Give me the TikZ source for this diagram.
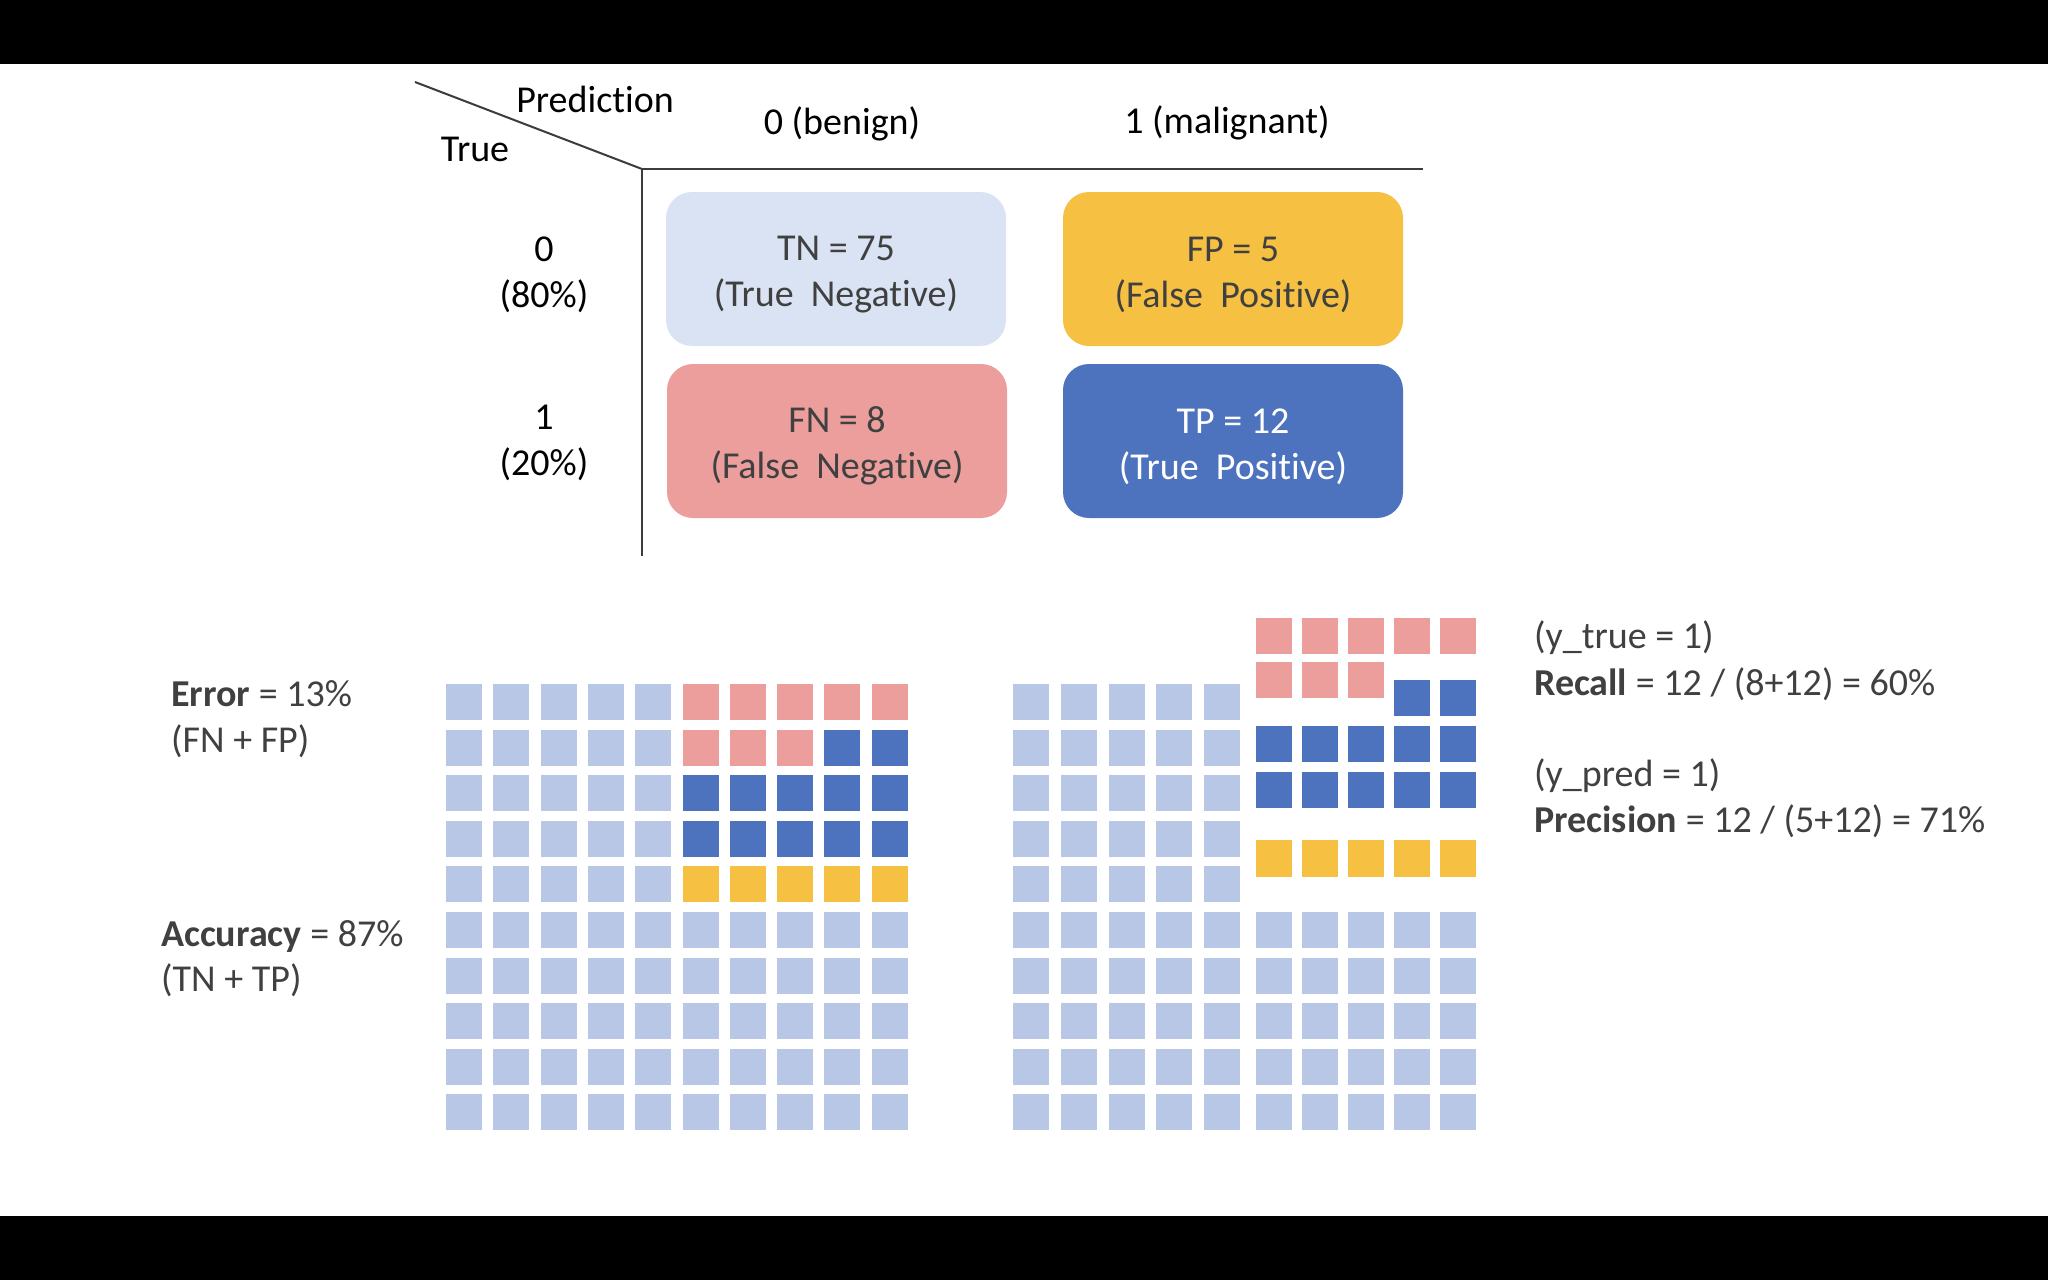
\documentclass[tikz,border=0pt]{standalone}
\usepackage{fontspec}
\setmainfont{Carlito}[Ligatures=NoCommon]
\usepackage{tikz}
\usetikzlibrary{positioning}

\definecolor{textgray}{HTML}{404040}
\definecolor{linegray}{HTML}{3C3C3C}
\definecolor{tnfill}{HTML}{DAE3F3}
\definecolor{fpfill}{HTML}{F6C142}
\definecolor{fnfill}{HTML}{EB9E9C}
\definecolor{tpfill}{HTML}{4D73BF}
\definecolor{lightsq}{HTML}{B7C7E5}

\tikzset{
	every node/.style={font=\fontsize{38}{46}\selectfont},
	cell/.style={rounded corners=26pt, minimum width=340pt, minimum height=154pt, align=center, text=textgray, inner sep=0pt, execute at begin node=\rule{0pt}{82pt}},
	head/.style={anchor=base, text=black, inner sep=0pt},
	rowhead/.style={align=center, text=black, inner sep=0pt},
	note/.style={anchor=base west, text=textgray, inner sep=0pt}
}

\begin{document}
\begin{tikzpicture}[x=1pt, y=-1pt]
		\useasboundingbox (0,0) rectangle (2048,1280);
		\fill[white] (0,0) rectangle (2048,1280);
		\fill[black] (0,0) rectangle (2048,64);
		\fill[black] (0,1216) rectangle (2048,1280);

		\coordinate(D) at (415,82);
		\coordinate(C) at (642,169);
		\coordinate(H) at (1423,169);
		\coordinate(V) at (642,556);
		\draw[linegray, line width=2pt] (D) -- (C);
		\draw[linegray, line width=2.5pt] (C) -- (H);
		\draw[linegray, line width=2pt] (C) -- (V);

		\node(pred)[head] at (595,112){Prediction};
		\node(true)[head] at (475,161){True};
		\node(col0)[head] at (842,134){0 (benign)};
		\node(col1)[head] at (1227,133){1 (malignant)};
		\node(row0)[rowhead] at (544,275){0\\(80\%)};
		\node(row1)[rowhead] at (544,443){1\\(20\%)};

		\node(TN)[cell, fill=tnfill] at (836,269){TN = 75\\(True\ \ Negative)};
		\node(FP)[cell, fill=fpfill] at (1233,269){FP = 5\\(False\ \ Positive)};
		\node(FN)[cell, fill=fnfill] at (837,441){FN = 8\\(False\ \ Negative)};
		\node(TP)[cell, fill=tpfill, text=white] at (1233,441){TP = 12\\(True\ \ Positive)};

		\node(err)[note] at (171,706){\textbf{Error} = 13\%};
		\node(errsum)[note] at (171,752){(FN + FP)};
		\node(acc)[note] at (161,946){\textbf{Accuracy} = 87\%};
		\node(accsum)[note] at (161,991){(TN + TP)};
		\node(ytrue)[note] at (1534,648){(y\_true = 1)};
		\node(rec)[note] at (1534,695){\textbf{Recall} = 12 / (8+12) = 60\%};
		\node(ypred)[note] at (1534,786){(y\_pred = 1)};
		\node(prec)[note] at (1534,832){\textbf{Precision} = 12 / (5+12) = 71\%};

		\foreach \c in {0,...,4}
			\foreach \r in {0,...,9}
				\fill[lightsq] ({446+47.3*\c},{684+45.6*\r}) rectangle ++(36,36);
		\foreach \c in {5,...,9} {
			\foreach \r in {5,...,9}
				\fill[lightsq] ({446+47.3*\c},{684+45.6*\r}) rectangle ++(36,36);
			\fill[fnfill] ({446+47.3*\c},684) rectangle ++(36,36);
			\fill[tpfill] ({446+47.3*\c},{684+45.6*2}) rectangle ++(36,36);
			\fill[tpfill] ({446+47.3*\c},{684+45.6*3}) rectangle ++(36,36);
			\fill[fpfill] ({446+47.3*\c},{684+45.6*4}) rectangle ++(36,36);
		}
		\foreach \c in {5,6,7}
			\fill[fnfill] ({446+47.3*\c},{684+45.6}) rectangle ++(36,36);
		\foreach \c in {8,9}
			\fill[tpfill] ({446+47.3*\c},{684+45.6}) rectangle ++(36,36);

		\foreach \c in {0,...,4}
			\foreach \r in {0,...,9}
				\fill[lightsq] ({1013+47.8*\c},{684+45.6*\r}) rectangle ++(36,36);
		\foreach \c in {0,...,4} {
			\foreach \r in {5,...,9}
				\fill[lightsq] ({1256+46*\c},{684+45.6*\r}) rectangle ++(36,36);
			\fill[fnfill] ({1256+46*\c},618) rectangle ++(36,36);
			\fill[tpfill] ({1256+46*\c},726) rectangle ++(36,36);
			\fill[tpfill] ({1256+46*\c},772) rectangle ++(36,36);
			\fill[fpfill] ({1256+46*\c},840) rectangle ++(36,37);
		}
		\foreach \c in {0,1,2}
			\fill[fnfill] ({1256+46*\c},662) rectangle ++(36,36);
		\foreach \c in {3,4}
			\fill[tpfill] ({1256+46*\c},680) rectangle ++(36,36);
	\end{tikzpicture}
\end{document}
